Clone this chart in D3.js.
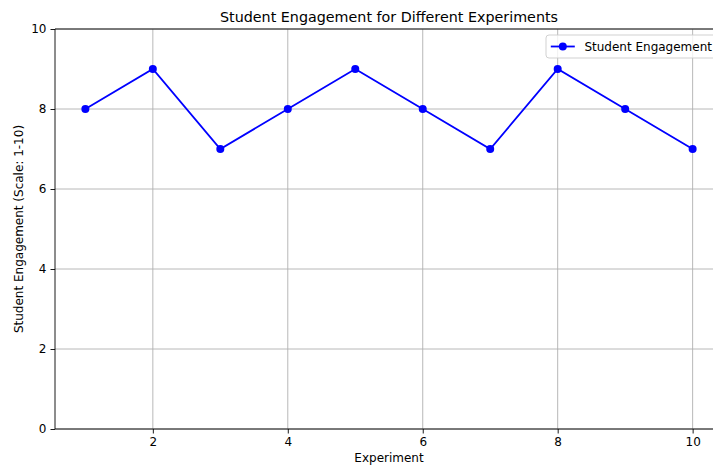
<!DOCTYPE html>
<html><head><meta charset="utf-8">
<script src="https://cdn.jsdelivr.net/npm/d3@7"></script>
<style>html,body{margin:0;padding:0;background:#fff;overflow:hidden}svg{display:block;font-family:"DejaVu Sans",sans-serif;overflow:hidden}</style>
</head><body>
<svg id="c" width="713" height="466"></svg>
<script>
const experiments = [1,2,3,4,5,6,7,8,9,10];
const engagement = [8,9,7,8,9,8,7,9,8,7];
const xTicks = [2,4,6,8,10];
const yTicks = [0,2,4,6,8,10];
const title = "Student Engagement for Different Experiments";
const xLabel = "Experiment";
const yLabel = "Student Engagement (Scale: 1-10)";
const seriesName = "Student Engagement";

const svg = d3.select("#c");
const W = 713;
const L = 55, R = 723, T = 29, B = 429;
const FS = 12;
const x = d3.scaleLinear().domain([0.55, 10.45]).range([L, R]);
const y = d3.scaleLinear().domain([0, 10]).range([B, T]);

svg.append("defs").append("clipPath").attr("id", "fig")
  .append("rect").attr("x", 0).attr("y", 0).attr("width", W).attr("height", 466);
const root = svg.append("g").attr("clip-path", "url(#fig)");

// grid
root.append("g").selectAll("line").data(xTicks).join("line")
  .attr("x1", d => x(d)).attr("x2", d => x(d)).attr("y1", T).attr("y2", B)
  .attr("stroke", "#b0b0b0").attr("stroke-width", 0.9);
root.append("g").selectAll("line").data(yTicks).join("line")
  .attr("x1", L).attr("x2", R).attr("y1", d => y(d)).attr("y2", d => y(d))
  .attr("stroke", "#b0b0b0").attr("stroke-width", 0.9);

// axes
const xa = root.append("g").attr("transform", `translate(0,${B})`)
  .call(d3.axisBottom(x).tickValues(xTicks).tickSize(4.5).tickPadding(4).tickFormat(d3.format("d")));
const ya = root.append("g").attr("transform", `translate(${L},0)`)
  .call(d3.axisLeft(y).tickValues(yTicks).tickSize(4.5).tickPadding(4).tickFormat(d3.format("d")));
[xa, ya].forEach(a => {
  a.select(".domain").remove();
  a.selectAll("text").attr("font-size", FS).attr("fill", "#000").attr("font-family", "DejaVu Sans");
  a.selectAll("line").attr("stroke", "#000").attr("stroke-width", 0.9);
});
// spines (right spine lies outside the visible figure)
const sp = root.append("g").attr("stroke", "#000").attr("stroke-width", 0.9);
sp.append("line").attr("x1", L).attr("x2", R).attr("y1", T).attr("y2", T);
sp.append("line").attr("x1", L).attr("x2", R).attr("y1", B).attr("y2", B);
sp.append("line").attr("x1", L).attr("x2", L).attr("y1", T).attr("y2", B);

// line
const pts = experiments.map((e, i) => [e, engagement[i]]);
root.append("path").datum(pts)
  .attr("d", d3.line().x(d => x(d[0])).y(d => y(d[1])))
  .attr("fill", "none").attr("stroke", "#0000ff").attr("stroke-width", 1.8);
root.append("g").selectAll("circle").data(pts).join("circle")
  .attr("cx", d => x(d[0])).attr("cy", d => y(d[1])).attr("r", 4).attr("fill", "#0000ff");

// title & labels
root.append("text").attr("x", (L + R) / 2).attr("y", 22).attr("text-anchor", "middle")
  .attr("font-size", 14.3).text(title);
root.append("text").attr("x", (L + R) / 2).attr("y", 462).attr("text-anchor", "middle")
  .attr("font-size", FS).text(xLabel);
root.append("text").attr("transform", `translate(23,${(T + B) / 2}) rotate(-90)`).attr("text-anchor", "middle")
  .attr("font-size", FS).text(yLabel);

// legend
const lw = 171, lh = 23;
const lx = R - 6 - lw, ly = T + 6;
const lg = root.append("g");
lg.append("rect").attr("x", lx).attr("y", ly).attr("width", lw).attr("height", lh).attr("rx", 3)
  .attr("fill", "#fff").attr("fill-opacity", 0.8).attr("stroke", "#cccccc").attr("stroke-width", 0.9);
lg.append("line").attr("x1", lx + 4.8).attr("x2", lx + 28.8).attr("y1", ly + lh / 2).attr("y2", ly + lh / 2)
  .attr("stroke", "#0000ff").attr("stroke-width", 1.8);
lg.append("circle").attr("cx", lx + 16.8).attr("cy", ly + lh / 2).attr("r", 4).attr("fill", "#0000ff");
lg.append("text").attr("x", lx + 38.4).attr("y", ly + lh / 2 + 4.3).attr("font-size", FS).text(seriesName);
</script>
</body></html>
